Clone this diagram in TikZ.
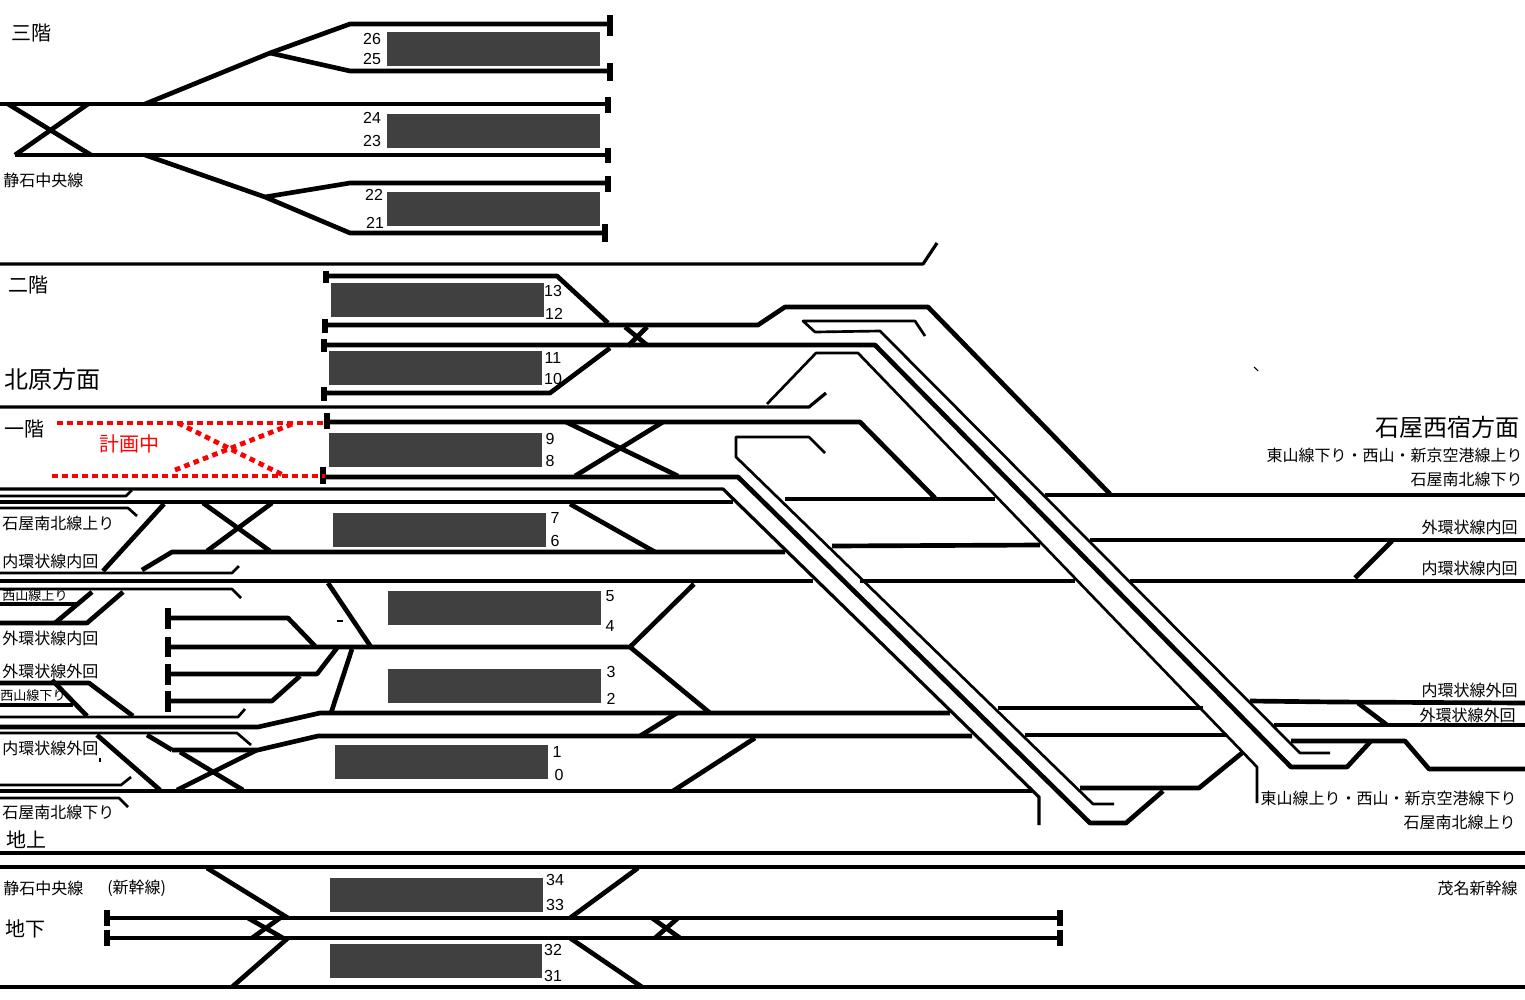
\documentclass[tikz,border=0pt]{standalone}
\usepackage{fontspec}
\setmainfont{Noto Sans CJK JP}
\newfontfamily\numfont{Liberation Sans}
\tikzset{
  th/.style={line width=3.5pt,line join=round},
  tm/.style={line width=2.4pt,line join=round},
  tn/.style={line width=2pt,line join=round},
  bar/.style={line width=3.9pt},
  plat/.style={fill=plat,draw=none},
  plan/.style={line width=3.6pt,red,dash pattern=on 4.2pt off 3.3pt},
  lab/.style={inner sep=0pt,font=\fontsize{12}{12}\selectfont},
  labw/.style={lab,anchor=west},
  labe/.style={lab,anchor=east},
  big/.style={inner sep=0pt,font=\fontsize{18}{18}\selectfont},
  mid/.style={inner sep=0pt,anchor=west,font=\fontsize{15}{15}\selectfont},
  num/.style={inner sep=0pt,font=\fontsize{12}{12}\numfont},
}
\definecolor{plat}{HTML}{404040}
\begin{document}
\begin{tikzpicture}[x=0.75pt,y=-0.75pt]
\useasboundingbox (0,0) rectangle (1525,1000);
% platforms
\foreach \a/\b/\c/\d in {387/32/600/66,387/114/600/148,387/192/600/226,331/283/544/317,329/351/542/385,329/433/542/467,333/513/546/547,388/591/601/625,388/669/601/703,335/745/548/779,330/878/543/912,330/944/542/978}
  \fill[plat] (\a,\b) rectangle (\c,\d);
% third floor
\draw[th] (145,104) -- (270,53) -- (350,24) -- (610,24);
\draw[th] (270,53) -- (350,71) -- (610,71);
\draw[th] (0,104) -- (608,104);
\draw[th] (15,155) -- (608,155);
\draw[th] (8,104) -- (91,155);
\draw[th] (15,155) -- (88,104);
\draw[th] (145,155) -- (265,197) -- (350,233) -- (605,233);
\draw[th] (265,197) -- (350,183) -- (608,183);
\foreach \a/\b/\c in {610/15/36,610/63/81,608/97/113,608/148/163,605/224/242,608/176/192}
  \draw[bar] (\a,\b) -- (\a,\c);
\draw[tm] (0,264) -- (923,264) -- (937,243);
% second floor
\draw[th] (326,276) -- (557,276) -- (608,323);
\draw[th] (325,325) -- (758,325) -- (785,307) -- (928,307) -- (1110,494);
\draw[th] (324,345) -- (875,345) -- (1291,767) -- (1347,767) -- (1371,741);
\draw[th] (1291,741) -- (1405,741) -- (1429,769) -- (1525,769);
\draw[th] (324,393) -- (550,393) -- (610,348);
\draw[th] (625,327) -- (647,345);
\draw[th] (647,327) -- (628,346);
\foreach \a/\b/\c in {326/271/283,325/319/333,324/339/352,324/387/401,327/413/429,323/467/484}
  \draw[bar] (\a,\b) -- (\a,\c);
\draw[tn] (925,336) -- (915,321) -- (803,321) -- (815,332) -- (880,331) -- (1300,753) -- (1330,753);
\draw[tn] (767,404) -- (816,353) -- (858,353) -- (1257,767) -- (1257,803);
% first floor
\draw[tm] (0,407) -- (809,407) -- (826,393);
\draw[th] (326,422) -- (860,422) -- (935,498);
\draw[th] (566,422) -- (678,476);
\draw[th] (575,476) -- (663,422);
\draw[th] (326,477) -- (738,477) -- (1090,823) -- (1126,823) -- (1163,791);
\draw[th] (1080,788) -- (1199,788) -- (1242,753);
\draw[tn] (825,453) -- (809,437) -- (736,437) -- (736,457) -- (1093,804) -- (1114,804);
\draw[plan] (57,423) -- (325,423);
\draw[plan] (52,476) -- (325,476);
\draw[plan] (178,423) -- (285,476);
\draw[plan] (175,470) -- (295,423);
% main group left
\draw[tm] (0,489) -- (723,489) -- (1039,797) -- (1039,825);
\draw[tn] (0,496) -- (126,496) -- (132,490);
\draw[th] (0,502) -- (733,502);
\draw[tn] (0,508) -- (128,508) -- (137,516);
\draw[th] (785,499) -- (995,499);
\draw[th] (1045,495) -- (1525,495);
\draw[th] (1090,540) -- (1525,540);
\draw[th] (1130,581) -- (1525,581);
\draw[th] (832,546) -- (1040,545);
\draw[th] (142,570) -- (172,552) -- (785,552);
\draw[th] (103,571) -- (164,504);
\draw[th] (203,503) -- (270,551);
\draw[th] (207,551) -- (272,503);
\draw[th] (570,504) -- (655,552);
\draw[tn] (0,573) -- (232,573) -- (239,566);
\draw[th] (0,581) -- (813,581);
\draw[th] (860,581) -- (1075,581);
\draw[tn] (0,589) -- (232,589) -- (241,598);
\draw[th] (0,604) -- (76,604);
\draw[th] (55,623) -- (92,592);
\draw[th] (0,623) -- (87,623) -- (123,592);
\draw[th] (1355,578) -- (1392,541);
% terminal tracks
\foreach \a/\b in {608/629,637/657,664/685,691/712}
  \draw[bar] (168,\a) -- (168,\b);
\draw[th] (168,618) -- (288,618) -- (315,646);
\draw[th] (168,647) -- (630,647) -- (694,584);
\draw[th] (630,647) -- (710,713);
\draw[th] (168,674) -- (317,674) -- (337,648);
\draw[th] (168,701) -- (272,701) -- (300,676);
\draw[th] (328,583) -- (371,647);
\draw[th] (352,649) -- (331,713);
\draw[line width=0.8pt] (337,621) -- (343,621);
% lower left
\draw[th] (0,683) -- (89,683) -- (133,716);
\draw[th] (52,680) -- (87,716);
\draw[th] (0,705) -- (73,705);
\draw[tn] (0,717) -- (238,717) -- (245,709);
\draw[th] (0,727) -- (258,727) -- (320,713) -- (950,713);
\draw[tn] (0,733) -- (237,733) -- (251,745);
\draw[th] (172,750) -- (258,750) -- (318,736) -- (972,736);
\draw[th] (97,735) -- (160,790);
\draw[th] (147,735) -- (172,750);
\draw[th] (180,752) -- (243,790);
\draw[th] (177,790) -- (257,750);
\draw[tn] (0,785) -- (121,785) -- (131,777);
\draw[th] (0,791) -- (1032,791);
\draw[tn] (0,798) -- (119,798) -- (128,807);
\draw[th] (640,736) -- (677,713);
\draw[th] (673,791) -- (755,738);
\draw[line width=0.8pt] (100,758) -- (100,762);
\draw[line width=0.8pt] (1254,367) -- (1258,371);
% lower right
\draw[th] (998,708) -- (1203,708);
\draw[th] (1025,735) -- (1227,735);
\draw[th] (1250,701) -- (1335,702) -- (1525,703);
\draw[th] (1274,725) -- (1525,725);
\draw[th] (1358,703) -- (1387,725);
% ground / underground
\draw[th] (0,853) -- (1525,853);
\draw[th] (0,867) -- (1525,867);
\draw[th] (0,987) -- (1525,987);
\draw[th] (107,918) -- (1060,918);
\draw[th] (107,938) -- (1060,938);
\foreach \a/\b/\c in {107/910/926,107/930/946,1060/910/926,1060/930/946}
  \draw[bar] (\a,\b) -- (\a,\c);
\draw[th] (207,868) -- (288,918);
\draw[th] (638,868) -- (570,918);
\draw[th] (288,938) -- (232,987);
\draw[th] (570,938) -- (642,987);
\draw[th] (248,918) -- (283,938);
\draw[th] (252,938) -- (280,918);
\draw[th] (652,918) -- (680,938);
\draw[th] (655,938) -- (678,918);
% labels
\node[mid] (t1) at (11,33) {三階};
\node[labw] (t2) at (3,180) {静石中央線};
\node[mid] (t3) at (8,285) {二階};
\node[big,anchor=west] (t4) at (4,379) {北原方面};
\node[mid] (t5) at (4,429) {一階};
\node[mid,red] (t6) at (99,444) {計画中};
\node[big,anchor=east] (t7) at (1520,427) {石屋西宿方面};
\node[labe] (t8) at (1523,455) {東山線下り・西山・新京空港線上り};
\node[labe] (t9) at (1523,479) {石屋南北線下り};
\node[labe] (t10) at (1518,527) {外環状線内回};
\node[labe] (t11) at (1518,568) {内環状線内回};
\node[labe] (t12) at (1518,690) {内環状線外回};
\node[labe] (t13) at (1516,715) {外環状線外回};
\node[labe] (t14) at (1517,798) {東山線上り・西山・新京空港線下り};
\node[labe] (t15) at (1516,822) {石屋南北線上り};
\node[labe] (t16) at (1518,888) {茂名新幹線};
\node[labw] (t17) at (2,523) {石屋南北線上り};
\node[labw] (t18) at (2,561) {内環状線内回};
\node[labw,font=\fontsize{9.8}{10}\selectfont] (t19) at (2,596) {西山線上り};
\node[labw] (t20) at (2,638) {外環状線内回};
\node[labw] (t21) at (2,671) {外環状線外回};
\node[labw,font=\fontsize{9.8}{10}\selectfont] (t22) at (0,696) {西山線下り};
\node[labw] (t23) at (2,748) {内環状線外回};
\node[labw] (t24) at (2,812) {石屋南北線下り};
\node[mid] (t25) at (6,840) {地上};
\node[labw] (t26) at (3,888) {静石中央線};
\node[labw] (t27) at (107,888) {(新幹線)};
\node[mid] (t28) at (5,929) {地下};
\foreach \n/\a/\b in {26/372/39,25/372/59,24/372/118,23/372/141,22/374/195,21/375/223,13/553/291,12/554/314,11/553/358,10/553/379,9/550/439,8/550/461,7/555/518,6/555/541,5/610/596,4/610/626,3/611/672,2/611/699,1/557/752,0/559/775,34/555/880,33/555/905,32/553/950,31/553/976}
  \node[num] (n\n) at (\a,\b) {\n};
\end{tikzpicture}
\end{document}
